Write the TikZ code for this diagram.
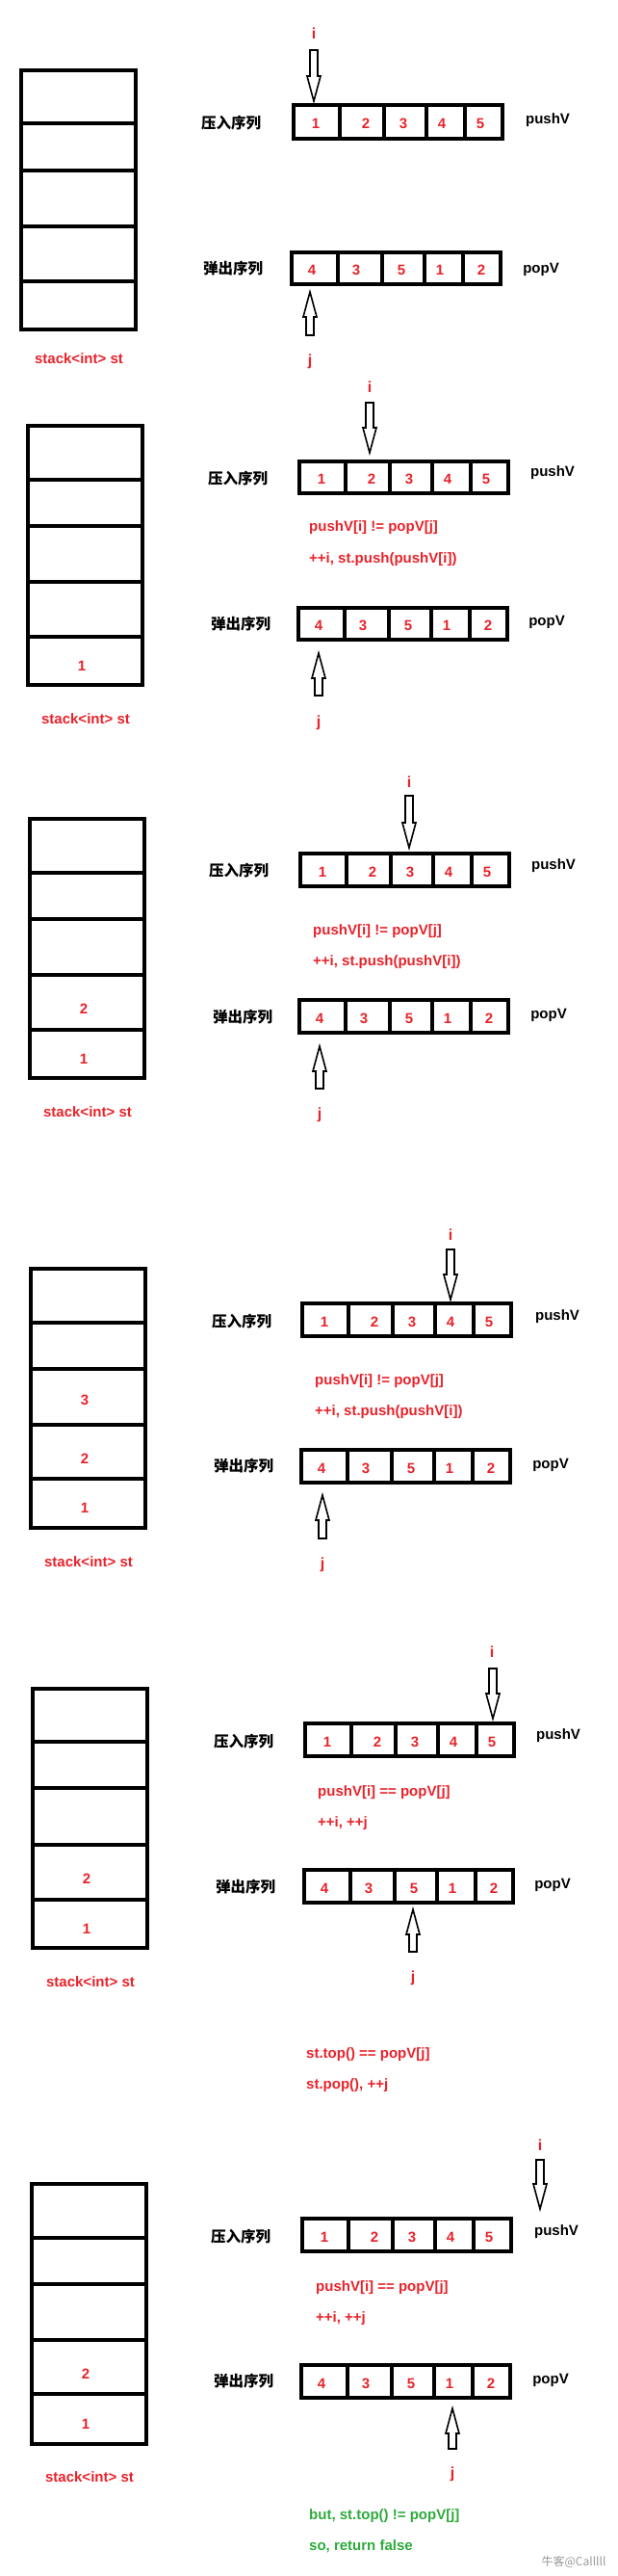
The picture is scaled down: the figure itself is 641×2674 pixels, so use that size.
\documentclass[tikz,border=0pt]{standalone}
\usepackage{fontspec}
\setmainfont{Liberation Sans}
\newfontfamily\cjk{Noto Sans CJK SC}
\definecolor{myred}{HTML}{E8222A}
\definecolor{mygreen}{HTML}{2EAA3C}
\tikzset{
 box/.style={line width=3.2pt, line cap=rect},
 stk/.style={line width=3.6pt, line cap=rect},
 harrow/.style={line width=1.6pt, line join=miter},
 num/.style={text=myred, font=\fontsize{15}{15}\selectfont\bfseries, inner sep=0pt},
 lbl/.style={font=\fontsize{15}{15}\selectfont\bfseries, inner sep=0pt},
 cn/.style={font=\cjk\fontsize{15.5}{15.5}\selectfont\bfseries, inner sep=0pt},
 code/.style={text=myred, font=\fontsize{15}{15}\selectfont\bfseries, inner sep=0pt, anchor=west},
 gcode/.style={text=mygreen, font=\fontsize{15}{15}\selectfont\bfseries, inner sep=0pt, anchor=west},
 ij/.style={text=myred, font=\fontsize{16}{16}\selectfont\bfseries, inner sep=0pt},
}
\newcommand\PArr[4]{%
 \draw[box] (#1,#2) rectangle ({#1+217},#3);
 \foreach \d in {48,94,138,178} \draw[box] ({#1+\d},#2) -- ({#1+\d},#3);
 \foreach \n/\o in #4 \node[num] at ({#1+\o},{(#2+#3)/2+2}) {\n};
}
\newcommand\PStk[6]{%
 \draw[stk] (#1,#3) rectangle ({#1+119},#2);
 \foreach \l in {#4} \draw[stk] (#1,\l) -- ({#1+119},\l);
 \foreach \n/\yy in {#5} \node[num] at ({#1+56},\yy) {\n};
 \node[num] at ({#1+60},#6) {stack<int> st};
}
\newcommand\DArrow[3]{%
 \draw[harrow] ({#1-4},#2) -- ({#1+4},#2) -- ({#1+4},{#3-26}) -- ({#1+7},{#3-26}) -- (#1,#3) -- ({#1-7},{#3-26}) -- ({#1-4},{#3-26}) -- cycle;}
\newcommand\UArrow[3]{%
 \draw[harrow] ({#1-4},#3) -- ({#1+4},#3) -- ({#1+4},{#2+26}) -- ({#1+7},{#2+26}) -- (#1,#2) -- ({#1-7},{#2+26}) -- ({#1-4},{#2+26}) -- cycle;}
\def\pushn{1/23,2/75,3/114,4/154,5/194}
\def\popn{4/21,3/67,5/114,1/154,2/197}
\begin{document}
\begin{tikzpicture}[x=1pt,y=-1pt]
\useasboundingbox (0,0) rectangle (641,2674);
% Panel 1
\PStk{22}{73}{342}{128,177,235,292}{/300}{372}
\node[ij] (i1) at (326,35) {i};
\DArrow{326}{52}{105}
\PArr{305}{109}{144}{\pushn}
\node[cn] (a1) at (240,128) {压入序列};
\node[lbl] (b1) at (569,125) {pushV};
\PArr{303}{262}{295}{\popn}
\node[cn] (c1) at (242,279) {弹出序列};
\node[lbl] (d1) at (562,280) {popV};
\UArrow{322}{303}{348}
\node[ij] (j1) at (322,375) {j};
% Panel 2
\PStk{29}{442}{711}{498,546,604,661}{1/691}{746}
\node[ij] (i2) at (384,402) {i};
\DArrow{384}{418}{470}
\PArr{311}{479}{512}{\pushn}
\node[cn] (a2) at (247,497) {压入序列};
\node[lbl] (b2) at (574,491) {pushV};
\node[code] (e2) at (321,548) {pushV[i] != popV[j]};
\node[code] (f2) at (321,581) {++i, st.push(pushV[i])};
\PArr{310}{631}{664}{\popn}
\node[cn] (c2) at (250,648) {弹出序列};
\node[lbl] (d2) at (568,646) {popV};
\UArrow{331}{678}{722}
\node[ij] (j2) at (331,750) {j};
% Panel 3
\PStk{31}{850}{1119}{906,954,1012,1069}{2/1047,1/1099}{1154}
\node[ij] (i3) at (425,812) {i};
\DArrow{425}{826}{880}
\PArr{312}{886}{920}{\pushn}
\node[cn] (a3) at (248,904) {压入序列};
\node[lbl] (b3) at (575,899) {pushV};
\node[code] (e3) at (325,967) {pushV[i] != popV[j]};
\node[code] (f3) at (325,999) {++i, st.push(pushV[i])};
\PArr{311}{1038}{1072}{\popn}
\node[cn] (c3) at (252,1056) {弹出序列};
\node[lbl] (d3) at (570,1054) {popV};
\UArrow{332}{1086}{1130}
\node[ij] (j3) at (332,1157) {j};
% Panel 4
\PStk{32}{1317}{1586}{1373,1421,1479,1535}{3/1453,2/1514,1/1565}{1621}
\node[ij] (i4) at (468,1282) {i};
\DArrow{468}{1297}{1349}
\PArr{314}{1353}{1387}{\pushn}
\node[cn] (a4) at (251,1372) {压入序列};
\node[lbl] (b4) at (579,1367) {pushV};
\node[code] (e4) at (327,1434) {pushV[i] != popV[j]};
\node[code] (f4) at (327,1466) {++i, st.push(pushV[i])};
\PArr{313}{1505}{1539}{\popn}
\node[cn] (c4) at (253,1522) {弹出序列};
\node[lbl] (d4) at (572,1521) {popV};
\UArrow{335}{1552}{1597}
\node[ij] (j4) at (335,1624) {j};
% Panel 5
\PStk{34}{1753}{2022}{1808,1856,1915,1972}{2/1950,1/2002}{2057}
\node[ij] (i5) at (511,1715) {i};
\DArrow{512}{1732}{1784}
\PArr{317}{1789}{1823}{\pushn}
\node[cn] (a5) at (253,1808) {压入序列};
\node[lbl] (b5) at (580,1802) {pushV};
\node[code] (e5) at (330,1861) {pushV[i] == popV[j]};
\node[code] (f5) at (330,1893) {++i, ++j};
\PArr{316}{1941}{1975}{\popn}
\node[cn] (c5) at (255,1959) {弹出序列};
\node[lbl] (d5) at (574,1957) {popV};
\UArrow{429}{1982}{2026}
\node[ij] (j5) at (429,2053) {j};
\node[code] (g5) at (318,2133) {st.top() == popV[j]};
\node[code] (h5) at (318,2165) {st.pop(), ++j};
% Panel 6
\PStk{33}{2267}{2537}{2323,2371,2429,2485}{2/2464,1/2516}{2571}
\node[ij] (i6) at (561,2227) {i};
\DArrow{561}{2242}{2293}
\PArr{314}{2303}{2337}{\pushn}
\node[cn] (a6) at (250,2322) {压入序列};
\node[lbl] (b6) at (578,2317) {pushV};
\node[code] (e6) at (328,2375) {pushV[i] == popV[j]};
\node[code] (f6) at (328,2407) {++i, ++j};
\PArr{313}{2455}{2489}{\popn}
\node[cn] (c6) at (253,2472) {弹出序列};
\node[lbl] (d6) at (572,2471) {popV};
\UArrow{470}{2500}{2542}
\node[ij] (j6) at (470,2568) {j};
\node[gcode] (g6) at (321,2612) {but, st.top() != popV[j]};
\node[gcode] (h6) at (321,2643) {so, return false};
\node[text=black!40, font=\cjk\fontsize{12}{12}\selectfont, inner sep=0pt] (w) at (596,2659) {牛客@Calllll};
\end{tikzpicture}
\end{document}
